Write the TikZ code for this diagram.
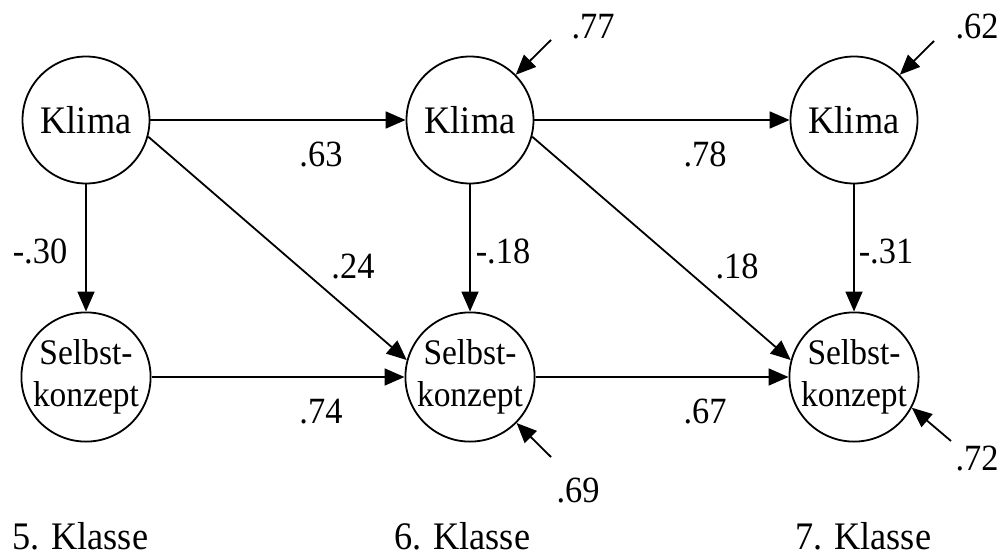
\documentclass[tikz,border=0pt]{standalone}
\usepackage{fontspec}
\setmainfont[FakeStretch=0.93]{Liberation Serif}
\usetikzlibrary{arrows.meta}
\tikzset{
  lat/.style={circle, draw, line width=1.8pt, minimum size=127pt, inner sep=0pt, font=\fontsize{39}{42}\selectfont},
  sk/.style={lat, align=center, font=\fontsize{36}{42}\selectfont},
  pth/.style={line width=1.8pt, -{Triangle[length=20pt,width=17pt]}},
  lbl/.style={anchor=base, inner sep=0pt, font=\fontsize{37}{40}\selectfont},
  cls/.style={anchor=base west, inner sep=0pt, text depth=0pt, font=\fontsize{39}{42}\selectfont}
}
\begin{document}
\begin{tikzpicture}[x=1pt,y=-1pt]
\useasboundingbox (0,0) rectangle (1003,556);
\node[lat] (k1) at (86,120) {Klima};
\node[lat] (k2) at (470,120) {Klima};
\node[lat] (k3) at (854,120) {Klima};
\node[sk] (s1) at (86,377) {Selbst-\\konzept};
\node[sk] (s2) at (470,377) {Selbst-\\konzept};
\node[sk] (s3) at (854,377) {Selbst-\\konzept};
\coordinate (e2) at (551,40);
\coordinate (e3) at (934,41);
\coordinate (e5) at (551,457);
\coordinate (e6) at (951,441);
\draw[pth] (k1) -- (k2);
\draw[pth] (k2) -- (k3);
\draw[pth] (s1) -- (s2);
\draw[pth] (s2) -- (s3);
\draw[pth] (k1) -- (s1);
\draw[pth] (k2) -- (s2);
\draw[pth] (k3) -- (s3);
\draw[pth] (k1.-15) -- (s2.165);
\draw[pth] (k2.-15) -- (s3.165);
\draw[pth] (e2) -- (k2);
\draw[pth] (e3) -- (k3);
\draw[pth] (e5) -- (s2);
\draw[pth] (e6) -- (s3.-28);
\node[lbl] (l63) at (321,167) {.63};
\node[lbl] (l78) at (705,167) {.78};
\node[lbl] (l30) at (40,263) {-.30};
\node[lbl] (l24) at (353,278) {.24};
\node[lbl] (l18a) at (503,263) {-.18};
\node[lbl] (l18b) at (737,278) {.18};
\node[lbl] (l31) at (886,263) {-.31};
\node[lbl] (l74) at (321,423) {.74};
\node[lbl] (l67) at (705,423) {.67};
\node[lbl] (l77) at (593,39) {.77};
\node[lbl] (l62) at (977,39) {.62};
\node[lbl] (l69) at (578,502) {.69};
\node[lbl] (l72) at (977,470) {.72};
\node[cls] (c5) at (12,549) {5. Klasse};
\node[cls] (c6) at (394,549) {6. Klasse};
\node[cls] (c7) at (795,549) {7. Klasse};
\end{tikzpicture}
\end{document}
